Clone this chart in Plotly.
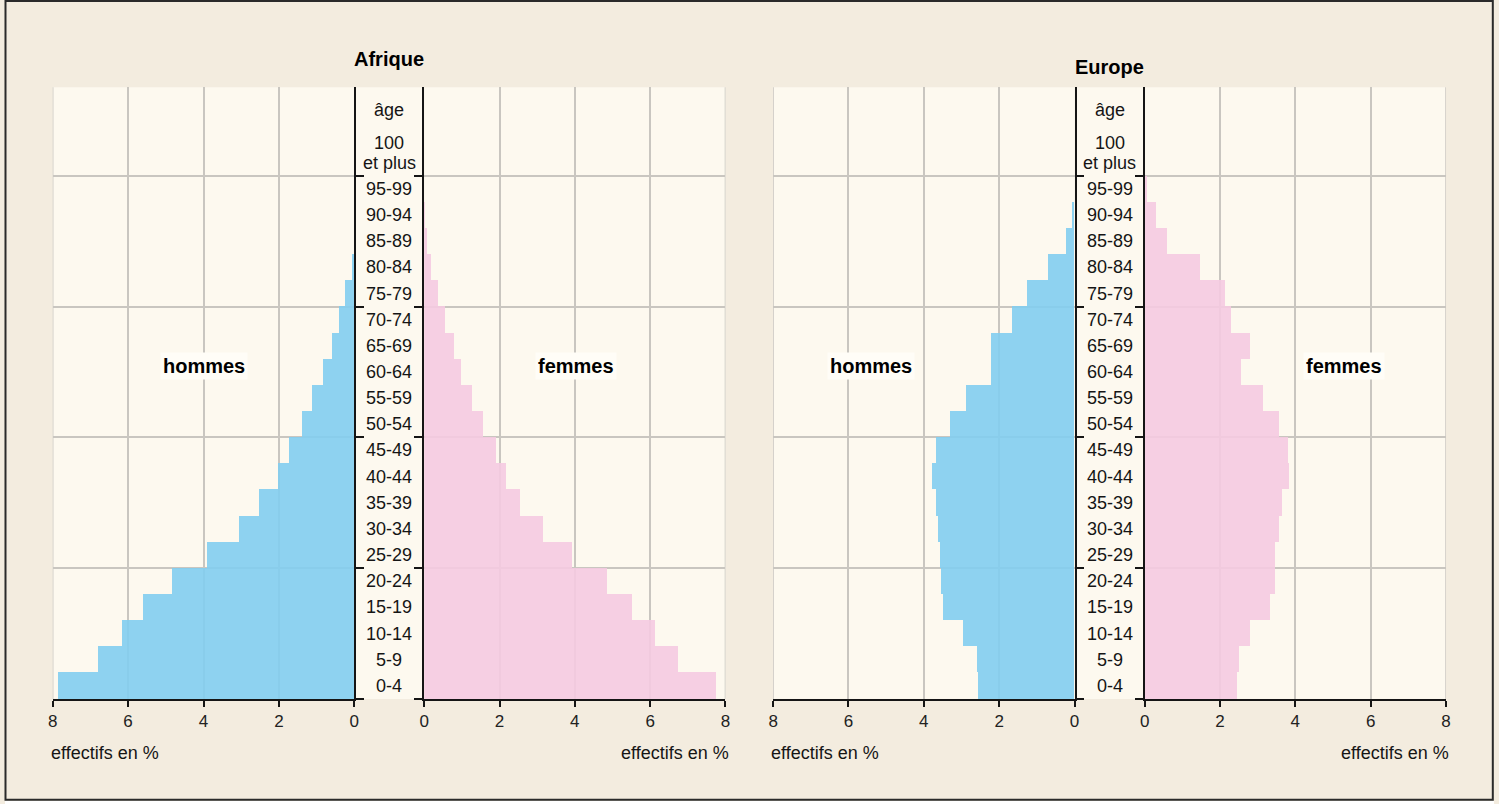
import plotly.graph_objects as go
import numpy as np

# ---------------- data ----------------
age_groups = ["0-4", "5-9", "10-14", "15-19", "20-24", "25-29", "30-34", "35-39",
              "40-44", "45-49", "50-54", "55-59", "60-64", "65-69", "70-74",
              "75-79", "80-84", "85-89", "90-94", "95-99"]
top_group_lines = ["100", "et plus"]
age_header = "âge"

afrique_hommes = [7.88, 6.82, 6.18, 5.61, 4.84, 3.91, 3.08, 2.53, 2.04, 1.75,
                  1.40, 1.12, 0.85, 0.59, 0.41, 0.25, 0.08, 0.03, 0.0, 0.0]
afrique_femmes = [7.76, 6.75, 6.13, 5.52, 4.85, 3.94, 3.17, 2.55, 2.18, 1.90,
                  1.57, 1.28, 0.98, 0.79, 0.55, 0.36, 0.19, 0.07, 0.02, 0.0]
europe_hommes = [2.57, 2.59, 2.95, 3.49, 3.55, 3.56, 3.61, 3.67, 3.79, 3.67,
                 3.30, 2.89, 2.22, 2.22, 1.65, 1.25, 0.70, 0.22, 0.07, 0.0]
europe_femmes = [2.43, 2.50, 2.80, 3.33, 3.46, 3.46, 3.57, 3.63, 3.82, 3.80,
                 3.57, 3.14, 2.56, 2.78, 2.29, 2.12, 1.46, 0.59, 0.30, 0.06]

x_ticks = [0, 2, 4, 6, 8]
titles = ["Afrique", "Europe"]
sex_labels = ["hommes", "femmes"]
x_title = "effectifs en %"

# ---------------- styles / layout ----------------
W, H = 1499, 804
FONT = "Liberation Sans, Arial, Helvetica, sans-serif"
PAPER = "#f3ecdf"
PLOT = "#fdf9ef"
GRID = "#c9c6c0"
BLUE = "rgba(130,205,240,0.9)"
PINK = "rgba(245,202,225,0.9)"
INK = "#151515"
LAB = 18

def px(x):
    return x / W

def py(y):
    return 1 - y / H

y_bottom_px, y_top_px = 698.9, 87.3
group_px = 26.15
n_groups = len(age_groups)
y_max = (y_bottom_px - y_top_px) / group_px
y_pos = np.arange(n_groups) + 0.5

panels = [  # (x0px, x1px, values, color, reversed)
    (48.0, 351.7, afrique_hommes, BLUE, True),
    (422.0, 725.3, afrique_femmes, PINK, False),
    (773.3, 1076.7, europe_hommes, BLUE, True),
    (1147.3, 1450.7, europe_femmes, PINK, False),
]

fig = go.Figure()
layout = dict(
    width=W, height=H, autosize=False, margin=dict(l=0, r=0, t=0, b=0, pad=0),
    paper_bgcolor=PAPER, plot_bgcolor=PLOT,
    showlegend=False, bargap=0,
    font=dict(family=FONT, size=LAB, color=INK),
)

shapes = []
annotations = []

for i, (x0, x1, vals, col, rev) in enumerate(panels):
    k = "" if i == 0 else str(i + 1)
    fig.add_trace(go.Bar(
        x=vals, y=y_pos, orientation="h", width=1,
        marker=dict(color=col, line=dict(width=0)),
        xaxis="x" + k, yaxis="y" + k, hoverinfo="skip",
    ))
    layout["xaxis" + k] = dict(
        domain=[px(x0), px(x1)], anchor="y" + k,
        range=[8, 0] if rev else [0, 8], tickvals=x_ticks,
        ticks="outside", ticklen=6, tickwidth=1.5, tickcolor=INK,
        showline=True, linecolor=INK, linewidth=1.5,
        showgrid=True, gridcolor=GRID, gridwidth=1.5, zeroline=False,
        tickfont=dict(size=17, color="#222"), fixedrange=True,
    )
    layout["yaxis" + k] = dict(
        domain=[py(y_bottom_px), py(y_top_px)], anchor="x" + k,
        range=[0, y_max], tickvals=[0, 5, 10, 15, 20],
        side="right" if rev else "left",
        ticks="outside", ticklen=8, tickwidth=1.5, tickcolor=INK,
        showline=True, linecolor=INK, linewidth=1.5,
        showgrid=True, gridcolor=GRID, gridwidth=1.5, zeroline=False,
        showticklabels=False, fixedrange=True,
    )
    # grid line at the outer edge (8 %)
    shapes.append(dict(type="line", xref="x" + k, yref="y" + k + " domain",
                       x0=8, x1=8, y0=0, y1=1, line=dict(color=GRID, width=1.5),
                       layer="below"))

# age column backgrounds and labels
columns = [(351.7, 422.0, "y"), (1076.7, 1147.3, "y3")]
for (c0, c1, yref) in columns:
    shapes.append(dict(type="rect", xref="paper", yref="paper",
                       x0=px(c0), x1=px(c1), y0=py(y_bottom_px), y1=py(y_top_px),
                       fillcolor=PLOT, line=dict(width=0), layer="below"))
    cx = px((c0 + c1) / 2)
    for lab, yy in zip(age_groups, y_pos):
        annotations.append(dict(text=lab, x=cx, y=yy, xref="paper", yref=yref,
                                showarrow=False, xanchor="center", yanchor="middle",
                                font=dict(size=LAB, color=INK)))
    for lab, yy in zip(top_group_lines + [age_header], [143, 163, 110]):
        annotations.append(dict(text=lab, x=cx, y=py(yy), xref="paper", yref="paper",
                                showarrow=False, xanchor="center", yanchor="middle",
                                font=dict(size=LAB, color=INK)))

# titles
for t, xc, yc in zip(titles, [387, 1112], [59, 67]):
    annotations.append(dict(text="<b>" + t + "</b>", x=px(xc), y=py(yc), xref="paper", yref="paper",
                            showarrow=False, xanchor="center", yanchor="middle",
                            font=dict(size=20, color="#000")))

# hommes / femmes labels
for lab, xc in zip(sex_labels * 2, [200, 575, 872, 1348]):
    annotations.append(dict(text="<b>" + lab + "</b>", x=px(xc), y=py(366), xref="paper", yref="paper",
                            showarrow=False, xanchor="center", yanchor="middle",
                            bgcolor="#fffdf7", borderpad=2,
                            font=dict(size=20, color="#000")))

# axis titles
for xx, anchor in [(44, "left"), (731, "right"), (769, "left"), (1456, "right")]:
    annotations.append(dict(text=x_title, x=px(xx), y=py(753), xref="paper", yref="paper",
                            showarrow=False, xanchor=anchor, yanchor="middle",
                            font=dict(size=LAB, color=INK)))

# frame
shapes.append(dict(type="rect", xref="paper", yref="paper",
                   x0=px(0.5), x1=px(1497.8), y0=py(799.8), y1=py(1),
                   line=dict(color="#2a2a2a", width=2), fillcolor="rgba(0,0,0,0)", layer="above"))
shapes.append(dict(type="rect", xref="paper", yref="paper",
                   x0=0, x1=1, y0=0, y1=py(801),
                   line=dict(width=0), fillcolor="#ffffff", layer="above"))

layout["shapes"] = shapes
layout["annotations"] = annotations
fig.update_layout(**layout)

fig.write_html(
    "out.html",
    config={"displayModeBar": False, "responsive": False},
    post_script="document.body.style.margin='0px';document.body.style.padding='0px';"
                "document.body.style.background='" + PAPER + "';"
                "document.documentElement.style.overflow='hidden';",
)
